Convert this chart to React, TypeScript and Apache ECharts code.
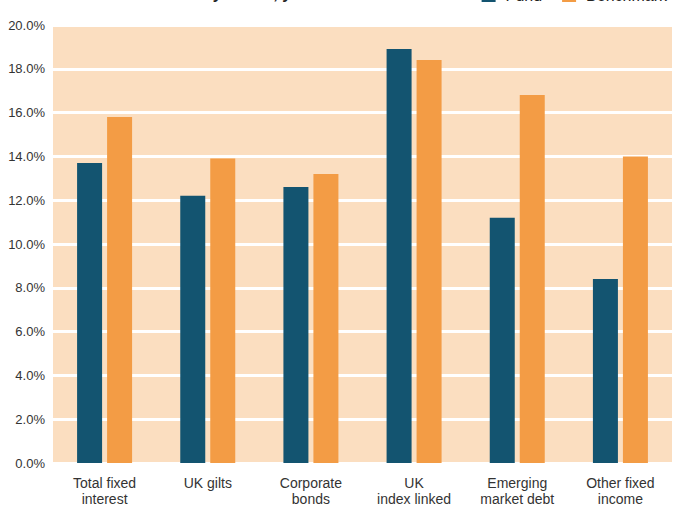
import React, { useEffect, useRef } from "react";
import * as echarts from "echarts";

const categories = [
  "Total fixed\ninterest",
  "UK gilts",
  "Corporate\nbonds",
  "UK\nindex linked",
  "Emerging\nmarket debt",
  "Other fixed\nincome",
];
const fundValues = [13.7, 12.2, 12.6, 18.9, 11.2, 8.4];
const benchmarkValues = [15.8, 13.9, 13.2, 18.4, 16.8, 14.0];
const seriesNames = ["Fund", "Benchmark"];
const chartTitle = "Fixed interest returns by sector, year to date 2024";

const FONT = "'Liberation Sans Narrow', 'Arial Narrow', 'Liberation Sans', sans-serif";

export default function App() {
  const ref = useRef<HTMLDivElement>(null);
  useEffect(() => {
    if (!ref.current) return;
    const chart = echarts.init(ref.current, undefined, { renderer: "svg" });
    chart.setOption({
      animation: false,
      backgroundColor: "#ffffff",
      textStyle: { fontFamily: FONT },
      title: {
        text: chartTitle,
        left: 30,
        top: -20,
        textStyle: { fontFamily: FONT, fontSize: 16, fontWeight: "bold", color: "#222" },
      },
      legend: {
        data: seriesNames,
        right: 1,
        top: -18,
        itemWidth: 14,
        itemHeight: 14,
        itemGap: 20,
        icon: "rect",
        textStyle: { fontFamily: FONT, fontSize: 16, color: "#222", padding: [0, 0, 0, 5] },
      },
      grid: {
        left: 53,
        right: 1,
        top: 25,
        bottom: 55,
        show: true,
        backgroundColor: "#FBDEC0",
        borderWidth: 0,
      },
      xAxis: {
        type: "category",
        data: categories,
        axisLine: { show: false },
        axisTick: { show: false },
        axisLabel: {
          fontFamily: FONT,
          fontSize: 14,
          color: "#333",
          lineHeight: 16,
          margin: 12,
          interval: 0,
        },
      },
      yAxis: {
        type: "value",
        min: 0,
        max: 20,
        interval: 2,
        axisLine: { show: false },
        axisTick: { show: false },
        axisLabel: {
          fontFamily: FONT,
          fontSize: 13,
          color: "#333",
          margin: 8,
          formatter: (v: number) => v.toFixed(1) + "%",
        },
        splitLine: { show: true, lineStyle: { color: "#ffffff", width: 3 } },
      },
      series: [
        {
          name: seriesNames[0],
          type: "bar",
          data: fundValues,
          barWidth: 25,
          barGap: "20%",
          itemStyle: { color: "#135470" },
        },
        {
          name: seriesNames[1],
          type: "bar",
          data: benchmarkValues,
          barWidth: 25,
          barGap: "20%",
          itemStyle: { color: "#F39C45" },
        },
      ],
    });
    return () => chart.dispose();
  }, []);
  return <div ref={ref} style={{ width: 673, height: 518, position: "absolute", left: 0, top: 0 }} />;
}
